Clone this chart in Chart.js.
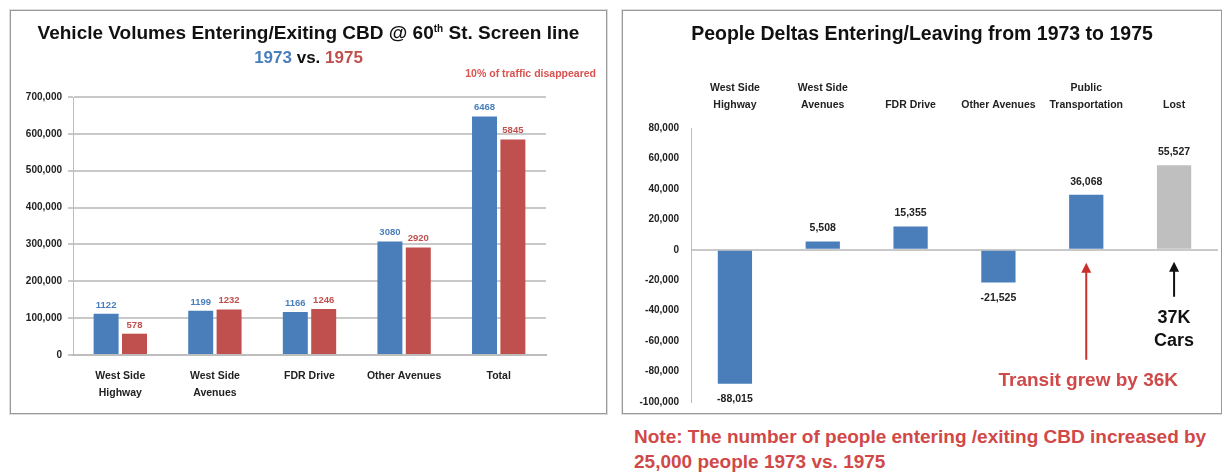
<!DOCTYPE html>
<html>
<head>
<meta charset="utf-8">
<script src="https://cdn.jsdelivr.net/npm/chart.js@4"></script>
<style>
  body { margin: 0; background: #fff; font-family: "Liberation Sans", Arial, sans-serif; width: 1222px; height: 472px; position: relative; overflow: hidden; }
  .panel { position: absolute; border: 1px solid #9a9a9a; box-shadow: 0 0 0 1px #dcdcdc; background: #fff; }
  .panel canvas { position: absolute; left: 0; top: 0; }
  .txt { position: absolute; font-weight: bold; white-space: nowrap; }
</style>
</head>
<body>

<div class="panel" id="p1" style="left:10px; top:10px; width:595px; height:402px;">
  <canvas id="volChart"></canvas>
  <div class="txt" style="left:0; width:595px; top:11px; text-align:center; font-size:19px; color:#111;">Vehicle Volumes Entering/Exiting CBD @ 60<sup style="font-size:10px">th</sup> St. Screen line</div>
  <div class="txt" style="left:0; width:595px; top:37px; text-align:center; font-size:17px; color:#111;"><span style="color:#4a7ebb">1973</span> vs. <span style="color:#c0504d">1975</span></div>
  <div class="txt" style="right:10px; top:56px; font-size:10.5px; color:#d9534f;">10% of traffic disappeared</div>
</div>

<div class="panel" id="p2" style="left:622px; top:10px; width:598px; height:402px;">
  <canvas id="deltaChart"></canvas>
  <div class="txt" style="left:0; width:598px; top:11px; text-align:center; font-size:19.5px; color:#111;">People Deltas Entering/Leaving from 1973 to 1975</div>
</div>

<div class="txt" style="left:634px; top:424px; font-size:19px; color:#d04848; line-height:25px;">Note: The number of people entering /exiting CBD increased by<br>25,000 people 1973 vs. 1975</div>

<script>
// ---- left chart data ----
const volCats = [["West Side", "Highway"], ["West Side", "Avenues"], "FDR Drive", "Other Avenues", "Total"];
const vol1973 = [112200, 119900, 116600, 308000, 646800];
const vol1975 = [57800, 123200, 124600, 292000, 584500];
const volTicks = { min: 0, max: 700000, step: 100000 };

// ---- right chart data ----
const deltaCats = [["West Side", "Highway"], ["West Side", "Avenues"], "FDR Drive", "Other Avenues", ["Public", "Transportation"], "Lost"];
const deltaVals = [-88015, 5508, 15355, -21525, 36068, 55527];
const deltaTicks = { min: -100000, max: 80000, step: 20000 };

const BLUE = "#4a7ebb";
const RED = "#c0504d";
const GREY = "#bfbfbf";

Chart.defaults.font.family = '"Liberation Sans", Arial, sans-serif';
Chart.defaults.font.weight = "bold";
Chart.defaults.color = "#222";

function fmt(n) {
  return n.toLocaleString("en-US");
}

/* bar value labels */
const valueLabels = {
  id: "valueLabels",
  afterDatasetsDraw(chart, args, opts) {
    const ctx = chart.ctx;
    ctx.save();
    ctx.font = "bold " + opts.size + "px " + Chart.defaults.font.family;
    ctx.textAlign = "center";
    chart.data.datasets.forEach((ds, di) => {
      chart.getDatasetMeta(di).data.forEach((bar, i) => {
        const v = ds.data[i];
        const txt = opts.format(v);
        ctx.fillStyle = opts.color ? opts.color : ds.backgroundColor;
        if (v >= 0) {
          ctx.textBaseline = "bottom";
          ctx.fillText(txt, bar.x, bar.y - opts.up);
        } else {
          ctx.textBaseline = "top";
          ctx.fillText(txt, bar.x, bar.y + opts.down);
        }
      });
    });
    ctx.restore();
  }
};

/* arrows + notes on right chart */
function arrow(ctx, x, y1, y2, color) {
  ctx.strokeStyle = color;
  ctx.fillStyle = color;
  ctx.lineWidth = 2;
  ctx.beginPath();
  ctx.moveTo(x, y1);
  ctx.lineTo(x, y2 + 6);
  ctx.stroke();
  ctx.beginPath();
  ctx.moveTo(x, y2);
  ctx.lineTo(x - 5, y2 + 10);
  ctx.lineTo(x + 5, y2 + 10);
  ctx.closePath();
  ctx.fill();
}

const notes = {
  id: "notes",
  afterDraw(chart) {
    const ctx = chart.ctx;
    const xs = chart.scales.x, ys = chart.scales.y;
    const zero = ys.getPixelForValue(0);
    ctx.save();
    // transit
    const xt = xs.getPixelForValue(4);
    arrow(ctx, xt, zero + 110, zero + 13, "#c9302c");
    ctx.font = "bold 19px " + Chart.defaults.font.family;
    ctx.fillStyle = "#d04848";
    ctx.textAlign = "center";
    ctx.textBaseline = "middle";
    ctx.fillText("Transit grew by 36K", xt + 2, zero + 131);
    // lost cars
    const xl = xs.getPixelForValue(5);
    arrow(ctx, xl, zero + 47, zero + 12, "#111");
    ctx.fillStyle = "#111";
    ctx.font = "bold 18px " + Chart.defaults.font.family;
    ctx.fillText("37K", xl, zero + 68);
    ctx.fillText("Cars", xl, zero + 91);
    ctx.restore();
  }
};

function main() {
  const c1 = document.getElementById("volChart");
  c1.width = 595; c1.height = 402;
  c1.style.width = "595px"; c1.style.height = "402px";
  new Chart(c1, {
    type: "bar",
    data: {
      labels: volCats,
      datasets: [
        { label: "1973", data: vol1973, backgroundColor: BLUE },
        { label: "1975", data: vol1975, backgroundColor: RED }
      ]
    },
    options: {
      responsive: false,
      animation: false,
      layout: { padding: { top: 86, right: 60, bottom: 0, left: 0 } },
      categoryPercentage: 0.6,
      barPercentage: 0.88,
      plugins: {
        legend: { display: false },
        tooltip: { enabled: false },
        valueLabels: { format: v => String(Math.round(v / 100)), size: 9.5, up: 4, down: 4 }
      },
      scales: {
        x: {
          grid: { display: false },
          border: { color: "#bdbdbd", width: 2 },
          ticks: { font: { size: 10.5, lineHeight: 1.6 }, padding: 5, maxRotation: 0, color: "#222" },
          afterFit(s) { s.height = 58; }
        },
        y: {
          min: volTicks.min, max: volTicks.max,
          ticks: { stepSize: volTicks.step, font: { size: 10 }, padding: 6, callback: v => fmt(v), color: "#222" },
          grid: { color: "#c9c9c9", lineWidth: 2, drawTicks: true, tickLength: 5 },
          border: { color: "#bdbdbd", width: 1 },
          afterFit(s) { s.width = 62; }
        }
      }
    },
    plugins: [valueLabels]
  });

  const c2 = document.getElementById("deltaChart");
  c2.width = 598; c2.height = 402;
  c2.style.width = "598px"; c2.style.height = "402px";
  new Chart(c2, {
    type: "bar",
    data: {
      labels: deltaCats,
      datasets: [{
        data: deltaVals,
        backgroundColor: deltaVals.map((v, i) => i === deltaVals.length - 1 ? GREY : BLUE)
      }]
    },
    options: {
      responsive: false,
      animation: false,
      layout: { padding: { top: 60, right: 3, bottom: 11, left: 0 } },
      categoryPercentage: 1,
      barPercentage: 0.39,
      plugins: {
        legend: { display: false },
        tooltip: { enabled: false },
        valueLabels: { format: v => fmt(v), color: "#222", size: 10.5, up: 8, down: 10 }
      },
      scales: {
        x: {
          position: "top",
          grid: { display: false },
          border: { display: false },
          ticks: { font: { size: 10.5, lineHeight: 1.55 }, padding: 7, maxRotation: 0, color: "#222" },
          afterFit(s) { s.height = 57; }
        },
        y: {
          min: deltaTicks.min, max: deltaTicks.max,
          ticks: { stepSize: deltaTicks.step, font: { size: 10 }, padding: 12, callback: v => fmt(v), color: "#222" },
          grid: {
            color: ctx => ctx.tick && ctx.tick.value === 0 ? "#c9c9c9" : "rgba(0,0,0,0)",
            lineWidth: 2,
            drawTicks: false
          },
          border: { color: "#bdbdbd", width: 1 },
          afterFit(s) { s.width = 68; s.paddingTop = 0; s.paddingBottom = 0; }
        }
      }
    },
    plugins: [valueLabels, notes]
  });
}

main();
</script>
</body>
</html>
